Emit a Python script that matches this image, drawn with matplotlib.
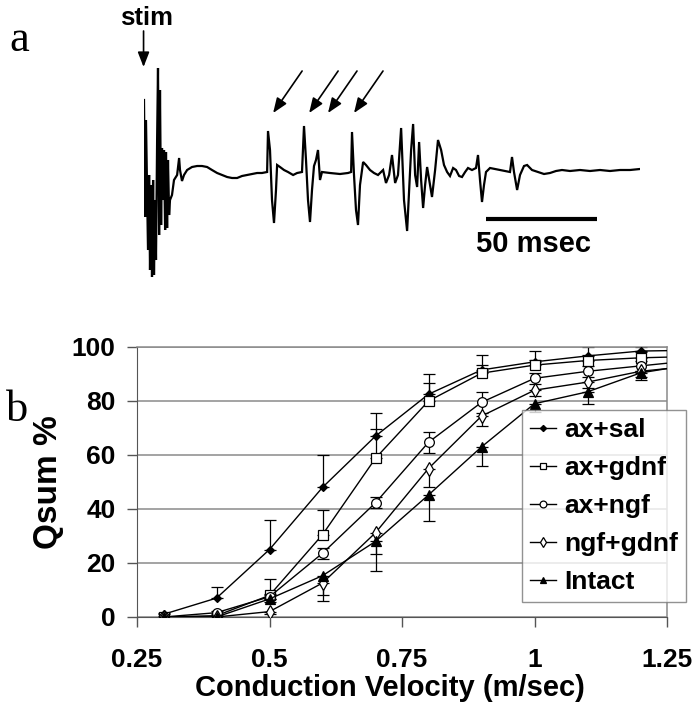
import matplotlib
matplotlib.use("Agg")
import matplotlib.pyplot as plt
import numpy as np

plt.rcParams['font.family'] = ['Liberation Sans', 'DejaVu Sans']
plt.rcParams['font.weight'] = 'bold'

# ---- panel a: compound action potential (time in ms, amplitude arbitrary units)
trace_ms = [0, 0.5, 0.9, 1.4, 1.8, 2.3, 2.7, 3.2, 3.6, 4.1, 4.5, 5.0, 5.4, 5.9, 6.3,
            6.8, 7.2, 7.7, 8.1, 8.6, 9.0, 9.5, 9.9, 10.4, 10.8, 11.3, 11.7, 12.6, 13.5,
            14.9, 15.8, 16.2, 17.1, 18.0, 19.4, 21.6, 23.9, 26.1, 28.4, 30.6, 32.9,
            35.1, 37.4, 39.6, 41.9, 44.1, 46.4, 48.6, 50.9, 53.1, 55.4,
            55.8, 56.7, 57.6, 58.5, 59.4, 59.9, 61.2, 63.0, 64.8, 67.1, 68.9, 71.1,
            72.0, 72.9, 73.8, 74.7, 75.6, 76.5, 77.4, 78.3, 79.2, 80.1, 83.7, 88.2,
            91.8, 93.2,
            93.6, 94.5, 95.4, 96.3, 97.2, 98.6, 99.9, 101.7, 103.5, 105.3, 107.6,
            108.9, 110.3, 111.6, 113.0, 114.3, 115.7, 117.0, 118.4, 119.3, 120.2,
            121.1, 122.0, 122.9, 123.8, 124.7, 125.6, 126.5, 127.4, 128.7, 129.6,
            131.0, 132.3, 133.7, 135.0, 136.4, 137.7, 139.1, 140.4, 141.8, 143.1,
            144.5, 145.8, 147.6, 149.4, 150.3, 151.2, 152.1, 153.0, 153.9, 155.7,
            158.0, 160.2, 162.5, 164.7, 165.6, 166.5, 167.9, 169.2, 171.0, 172.4,
            174.6, 177.3, 180.0, 182.7, 185.4, 188.1, 191.7, 196.2, 200.7, 205.2,
            209.7, 214.2, 218.7, 223.2]
trace_amp = [72, -45, 52, -18, -78, -3, -98, -13, -105, -8, -103, -28, -88, 32, 104,
             -63, 82, -53, 24, -28, 22, -58, 20, -56, 12, -43, -28, -23, -8,
             -3, 14, 2, -9, -3, 2, 5, 6, 6, 5, 2, -1,
             -3, -5, -6, -6, -4, -3, -2, -1, -1, 0,
             41, 22, -28, -51, -18, 7, 5, 2, 0, -3, -1, 0,
             46, 12, -28, -50, -18, 6, 12, 22, -8, 0, -1, -2,
             -1, 0,
             40, -3, -38, -53, -13, 10, 7, 2, -1, -3, 2,
             -11, -3, 17, -11, -3, 44, -28, -59, -18, 22,
             48, -3, -15, 30, -8, -36, -13, 5, -13, -25,
             2, 32, 22, 7, 0, -4, 4, 2, -4, -5,
             0, 4, 2, 4, 17, -8, -30, -13, 0, 4,
             3, 2, 1, 0, 15, 0, -18, -3, 6, 7,
             2, 0, -2, -1, 1, 2, 1, 2, 1, 2,
             1, 2, 2, 3]
arrow_ms = [58.1, 74.3, 82.8, 94.5]
scale_start_ms = 153.9
scale_len_ms = 50

# ---- panel b: cumulative conduction velocity distribution
velocity = [0.3, 0.4, 0.5, 0.6, 0.7, 0.8, 0.9, 1.0, 1.1, 1.2, 1.3]
ax_sal = [1, 7, 25, 48, 67, 82.5, 91.5, 94.5, 96.7, 98.5, 98.8]
ax_gdnf = [0, 0.5, 8, 30.5, 58.8, 80, 90.3, 93.3, 95, 96, 96.5]
ax_ngf = [0, 1.6, 7.5, 23.6, 42.3, 64.7, 79.5, 88.4, 91, 93, 95]
ngf_gdnf = [0, 0, 2, 12.6, 31.2, 55, 74.4, 84, 87, 91, 93]
intact = [0, 0, 6.7, 15.3, 28, 45.2, 63, 79, 83.4, 90.4, 93.6]

sal_err = [0.5, 4, 11, 12, 8.5, 7.5, 5.5, 4, 3.3, 1.5]
gdnf_err = [0, 0, 6, 9, 10.7, 6.8, 3, 2, 2, 2]
ngf_err = [0, 0.5, 1, 2, 2, 4, 4, 2, 2, 2]
ngf_gdnf_err = [0, 0, 1, 6.6, 8, 7, 3.5, 2, 2, 2]
intact_err = [0, 0, 1, 7, 11, 9.6, 7, 3, 4.5, 2.6]

labels = ['ax+sal', 'ax+gdnf', 'ax+ngf', 'ngf+gdnf', 'Intact']
x_ticks = [0.25, 0.5, 0.75, 1, 1.25]
x_ticklabels = ['0.25', '0.5', '0.75', '1', '1.25']
y_ticks = [0, 20, 40, 60, 80, 100]

W, H = 698, 719
fig = plt.figure(figsize=(W / 100, H / 100), dpi=100)


def fbox(x0, y0, x1, y1):
    # pixel box -> figure fraction rect
    return [x0 / W, 1 - y1 / H, (x1 - x0) / W, (y1 - y0) / H]


# ---------------- panel a
axa = fig.add_axes(fbox(144, 60, 640, 285))
axa.plot(trace_ms, trace_amp, color='black', lw=1.6, solid_joinstyle='miter')
axa.set_xlim(0, 223.2)
axa.set_ylim(-113, 112)
axa.axis('off')

# stim arrow
axa.annotate('', xy=(-0.2, 105), xytext=(-0.2, 141), annotation_clip=False,
             arrowprops=dict(arrowstyle='-|>,head_length=0.9,head_width=0.35',
                             color='black', lw=1.2, shrinkA=0, shrinkB=0))
axa.text(1.3, 154, 'stim', ha='center', va='center', fontsize=18.5,
         fontweight='bold', clip_on=False)
for t in arrow_ms:
    axa.annotate('', xy=(t, 59), xytext=(t + 13.05, 101), annotation_clip=False,
                 arrowprops=dict(arrowstyle='-|>,head_length=0.9,head_width=0.35',
                                 color='black', lw=1.2, shrinkA=0, shrinkB=0))
axa.plot([scale_start_ms, scale_start_ms + scale_len_ms], [-47, -47],
         color='black', lw=3, solid_capstyle='butt', clip_on=False)
axa.text(175.5, -72, '50 msec', ha='center',
         va='center', fontsize=21, fontweight='bold', clip_on=False)

fig.text(19 / W, 1 - 40 / H, 'a', family='Liberation Serif', fontweight='normal',
         fontsize=32, ha='center', va='center')
fig.text(17 / W, 1 - 410 / H, 'b', family='Liberation Serif', fontweight='normal',
         fontsize=32, ha='center', va='center')

# ---------------- panel b
axb = fig.add_axes(fbox(137, 347, 667, 617))
styles = [
    dict(marker='D', ms=4.5, mfc='black', mec='black'),
    dict(marker='s', ms=7, mfc='white', mec='black'),
    dict(marker='o', ms=7, mfc='white', mec='black'),
    dict(marker='d', ms=7, mfc='white', mec='black'),
    dict(marker='^', ms=6.5, mfc='black', mec='black'),
]
series = [ax_sal, ax_gdnf, ax_ngf, ngf_gdnf, intact]
n = len(sal_err)
for y, st, lab in zip(series, styles, labels):
    axb.plot(velocity, y, color='black', lw=1.0, markevery=list(range(n)),
             mew=0.9, label=lab, zorder=3, **st)

zeros = [0] * n
err_sets = [
    (ax_sal, zeros, sal_err),
    (ax_gdnf, zeros, gdnf_err),
    (ax_ngf, ngf_err, ngf_err),
    (ngf_gdnf, ngf_gdnf_err, zeros),
    (intact, intact_err, zeros),
]
for y, lo, hi in err_sets:
    axb.errorbar(velocity[:n], y[:n], yerr=[lo, hi], fmt='none', ecolor='black',
                 elinewidth=0.9, capsize=4, capthick=0.9, zorder=2)

axb.set_xlim(0.25, 1.25)
axb.set_ylim(0, 100)
axb.set_xticks(x_ticks)
axb.set_xticklabels(x_ticklabels)
axb.set_yticks(y_ticks)
axb.yaxis.grid(True, color='#8a8a8a', lw=1.1)
axb.set_axisbelow(True)
for s in ['top', 'right']:
    axb.spines[s].set_color('#8a8a8a')
    axb.spines[s].set_linewidth(1.1)
axb.spines['left'].set_color('#555555')
axb.spines['bottom'].set_color('#555555')
axb.tick_params(axis='both', direction='out', length=7, width=1, color='#555555',
                labelsize=19)
axb.tick_params(axis='x', pad=15)
axb.tick_params(axis='y', pad=8.5)

fig.text(390 / W, 1 - 688 / H, 'Conduction Velocity (m/sec)', ha='center',
         va='center', fontsize=21, fontweight='bold')
fig.text(48 / W, 1 - 482 / H, 'Qsum %', ha='center', va='center', rotation=90,
         fontsize=24, fontweight='bold')

leg = axb.legend(loc='upper left', bbox_to_anchor=(522 / W, 1 - 410 / H),
                 bbox_transform=fig.transFigure, borderaxespad=0, fontsize=19,
                 frameon=True, fancybox=False, edgecolor='#777777',
                 handlelength=1.0, handletextpad=0.3, labelspacing=0.53,
                 borderpad=0.3, markerscale=0.7)
leg.get_frame().set_linewidth(1.0)
leg.set_zorder(5)

fig.savefig('out.png', dpi=100, facecolor='white')
